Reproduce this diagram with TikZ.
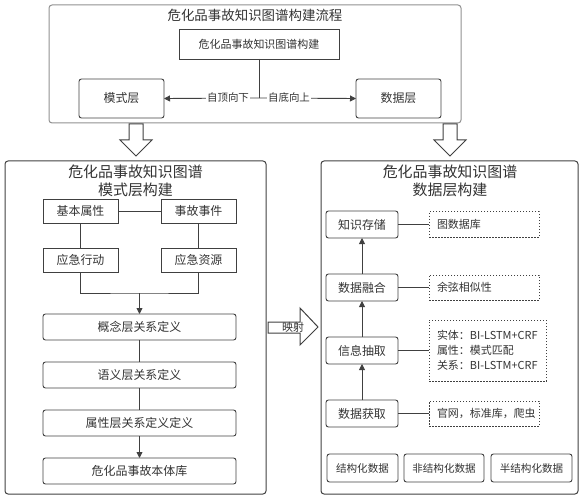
\documentclass[tikz,border=0pt]{standalone}
\usepackage{fontspec}
\setmainfont{Noto Sans CJK SC}
\usetikzlibrary{arrows.meta}
\definecolor{ln}{HTML}{404040}
\definecolor{tx}{HTML}{333333}
\definecolor{outer}{HTML}{909090}
\begin{document}
\begin{tikzpicture}[x=1bp,y=-1bp,
  every node/.style={text=tx, inner sep=0pt, outer sep=0pt},
  rbox/.style={draw=ln, line width=0.9bp, rounded corners=2.5bp, font=\fontsize{12}{14}\selectfont},
  sbox/.style={draw=ln, line width=0.9bp, font=\fontsize{11}{13}\selectfont},
  dbox/.style={draw=ln, line width=1bp, dash pattern=on 1.5bp off 1.5bp, font=\fontsize{11}{15}\selectfont, align=left, inner xsep=8bp},
  conn/.style={draw=ln, line width=0.9bp},
  arr/.style={draw=ln, line width=0.9bp, -{Triangle[length=6bp,width=6bp]}},
  hollow/.style={draw=ln, line width=1bp, fill=white},
  ttl/.style={font=\fontsize{15}{18}\selectfont, align=center}
]
\useasboundingbox (0,0) rectangle (584,500);
% top frame
\draw[draw=outer, line width=1bp, rounded corners=3bp] (49,5) rectangle (461,123);
\node[font=\fontsize{13.5}{16}\selectfont] (t0) at (255,15) {危化品事故知识图谱构建流程};
\node[sbox, minimum width=160bp, minimum height=30bp] (kg) at (259,44) {危化品事故知识图谱构建};
\node[rbox, minimum width=85bp, minimum height=39bp] (ms) at (121.5,98.5) {模式层};
\node[rbox, minimum width=85bp, minimum height=39bp] (sj) at (398.5,98.5) {数据层};
\coordinate (mid) at (259,98);
\draw[conn] (kg.south) -- (mid);
\draw[arr] (mid) -- (ms.east);
\draw[arr] (mid) -- (sj.west);
\node[fill=white, inner xsep=1bp, font=\fontsize{10.5}{12}\selectfont] (l1) at (228,98) {自顶向下};
\node[fill=white, inner xsep=1bp, font=\fontsize{10.5}{12}\selectfont] (l2) at (289,98) {自底向上};
% hollow down arrows
\draw[hollow] (129,124) -- (143,124) -- (143,140) -- (152,140) -- (136,156) -- (120,140) -- (129,140) -- cycle;
\draw[hollow] (443,124) -- (457,124) -- (457,140) -- (466,140) -- (450,156) -- (434,140) -- (443,140) -- cycle;
% left frame
\draw[draw=ln, line width=1bp, rounded corners=3bp] (5,161) rectangle (266,494);
\node[ttl] (t1) at (135.5,181) {危化品事故知识图谱\\模式层构建};
\node[sbox, minimum width=75bp, minimum height=24bp, font=\fontsize{12}{14}\selectfont] (jb) at (80.5,211) {基本属性};
\node[sbox, minimum width=75bp, minimum height=24bp, font=\fontsize{12}{14}\selectfont] (sg) at (198.5,211) {事故事件};
\node[sbox, minimum width=75bp, minimum height=24bp, font=\fontsize{12}{14}\selectfont] (xd) at (80.5,260) {应急行动};
\node[sbox, minimum width=75bp, minimum height=24bp, font=\fontsize{12}{14}\selectfont] (zy) at (198.5,260) {应急资源};
\node[rbox, minimum width=193bp, minimum height=26bp] (gn) at (139.5,327) {概念层关系定义};
\node[rbox, minimum width=193bp, minimum height=26bp] (yy) at (139.5,375) {语义层关系定义};
\node[rbox, minimum width=193bp, minimum height=26bp] (sx) at (139.5,423) {属性层关系定义定义};
\node[rbox, minimum width=193bp, minimum height=26bp] (bt) at (139.5,471) {危化品事故本体库};
\draw[conn] (jb.east) -- (sg.west);
\draw[conn] (jb.south) -- (xd.north);
\draw[conn] (sg.south) -- (zy.north);
\coordinate (j) at (139.5,293);
\draw[conn] (xd.south) |- (j) -| (zy.south);
\draw[arr] (j) -- (gn.north);
\draw[conn] (gn.south) -- (yy.north);
\draw[conn] (yy.south) -- (sx.north);
\draw[arr] (sx.south) -- (bt.north);
% mapping arrow
\draw[hollow] (268,322) -- (300,322) -- (300,308) -- (318,327) -- (300,345) -- (300,333) -- (268,333) -- cycle;
\node[font=\fontsize{11}{13}\selectfont] (ys) at (293,327.5) {映射};
% right frame
\draw[draw=ln, line width=1bp, rounded corners=3bp] (321,161) rectangle (578,494);
\node[ttl] (t2) at (450,181) {危化品事故知识图谱\\数据层构建};
\node[rbox, minimum width=72bp, minimum height=27bp] (cc) at (362,224.5) {知识存储};
\node[rbox, minimum width=72bp, minimum height=27bp] (rh) at (362,287.5) {数据融合};
\node[rbox, minimum width=72bp, minimum height=27bp] (cq) at (362,350.5) {信息抽取};
\node[rbox, minimum width=72bp, minimum height=27bp] (hq) at (362,413.5) {数据获取};
\node[dbox, minimum height=25bp, text width=94bp] (d1) at (484,224.5) {图数据库};
\node[dbox, minimum height=25bp, text width=94bp] (d2) at (484,287.5) {余弦相似性};
\node[dbox, minimum height=61bp, text width=101bp] (d3) at (487.5,350.5) {实体：BI-LSTM+CRF\\属性：模式匹配\\关系：BI-LSTM+CRF};
\node[dbox, minimum height=25bp, text width=94bp] (d4) at (484,413.5) {官网，标准库，爬虫};
\draw[conn] (cc.east) -- (cc.east -| d1.west);
\draw[conn] (rh.east) -- (rh.east -| d2.west);
\draw[conn] (cq.east) -- (cq.east -| d3.west);
\draw[conn] (hq.east) -- (hq.east -| d4.west);
\draw[arr] (hq.north) -- (cq.south);
\draw[arr] (cq.north) -- (rh.south);
\draw[arr] (rh.north) -- (cc.south);
\node[rbox, minimum width=71bp, minimum height=28bp, font=\fontsize{10.6}{12}\selectfont] (b1) at (362.5,468) {结构化数据};
\node[rbox, minimum width=80bp, minimum height=28bp, font=\fontsize{10.6}{12}\selectfont] (b2) at (444,468) {非结构化数据};
\node[rbox, minimum width=81bp, minimum height=28bp, font=\fontsize{10.6}{12}\selectfont] (b3) at (531.5,468) {半结构化数据};
\end{tikzpicture}
\end{document}
